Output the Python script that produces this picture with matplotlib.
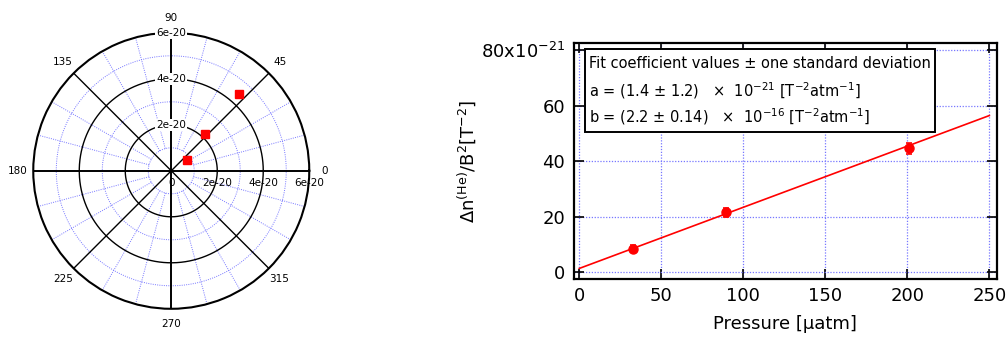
import numpy as np
import matplotlib
matplotlib.use("Agg")
from matplotlib import pyplot as plt
from matplotlib.patches import Rectangle

plt.rcParams['font.family'] = 'DejaVu Sans'
plt.rcParams['mathtext.fontset'] = 'dejavusans'

# measured points (Delta n / B^2 in units of 1e-21 T^-2)
pressure = [32.5, 89.5, 200.8]          # uatm
dn = [8.5, 21.6, 44.6]
dn_err = [1.3, 1.6, 2.0]
phase_deg = [34.0, 47.0, 48.5]          # phase of the signal for the polar view

# linear fit y = a + b*P  (a in 1e-21, b in 1e-16 per atm -> 1e-22 per uatm)
fit_a = 1.4
fit_b = 2.2
fit_p = [0, 250]

polar_rings = [2e-20, 4e-20, 6e-20]
polar_minor = [1e-20, 3e-20, 5e-20]
ring_labels = ['2e-20', '4e-20', '6e-20']
angle_ticks = [0, 45, 90, 135, 180, 225, 270, 315]

xticks = [0, 50, 100, 150, 200, 250]
yticks = [0, 20, 40, 60, 80]
ytick_labels = ['0', '20', '40', '60', r'80x10$^{-21}$']

blue = '#7777ff'
dots = (0, (1, 1.3))

fig = plt.figure(figsize=(10.08, 3.43), dpi=100)

# ---------------- polar plot ----------------
pax = fig.add_axes([0.0330, 0.0997, 0.2738, 0.8047], projection='polar')
rmax = 6e-20
pax.set_ylim(0, rmax)
pax.grid(False)
pax.set_xticks([])
pax.set_yticks([])
pax.spines['polar'].set_linewidth(1.5)
pax.spines['polar'].set_color('black')

th = np.linspace(0, 2*np.pi, 400)
for r in polar_minor:
    pax.plot(th, np.full_like(th, r), color=blue, lw=0.7, ls=dots, zorder=1)
for deg in range(0, 360, 15):
    if deg % 45:
        t = np.deg2rad(deg)
        pax.plot([t, t], [1e-20, rmax], color=blue, lw=0.7, ls=dots, zorder=1)
for r in polar_rings[:-1]:
    pax.plot(th, np.full_like(th, r), color='black', lw=1.0, zorder=2)
for deg in angle_ticks:
    t = np.deg2rad(deg)
    lw = 1.4 if deg % 90 == 0 else 1.0
    pax.plot([t, t], [0, rmax], color='black', lw=lw, zorder=2)

# angle labels
for deg in angle_ticks:
    pax.text(np.deg2rad(deg), rmax * 1.11, str(deg), ha='center', va='center',
             fontsize=7.5, clip_on=False)

# radius labels on the 90 degree axis
for r, lab in zip(polar_rings, ring_labels):
    pax.text(np.pi/2, r, lab, ha='center', va='center', fontsize=7.5, zorder=4,
             bbox=dict(facecolor='white', edgecolor='none', pad=0.6))
# radius labels under the 0 degree axis
for r, lab in zip([0] + polar_rings, ['0'] + ring_labels):
    pax.annotate(lab, xy=(0, r), xytext=(0, -9), textcoords='offset points',
                 ha='center', va='center', fontsize=7.5, annotation_clip=False)

pr = np.array(dn) * 1e-21
pax.plot(np.deg2rad(phase_deg), pr, 's', color='red', ms=5.5, mec='red', zorder=5,
         clip_on=False)

# ---------------- linear plot ----------------
ax = fig.add_axes([0.5690, 0.1866, 0.4198, 0.6872])
ax.set_xlim(-3.5, 254.5)
ax.set_ylim(-2.4, 82.4)

px = np.array(fit_p, dtype=float)
ax.plot(px, fit_a + fit_b * 0.1 * px, color='red', lw=1.2, zorder=3)
ax.errorbar(pressure, dn, yerr=dn_err, fmt='o', color='red', ms=6.5,
            capsize=2.5, elinewidth=1.2, capthick=1.2, zorder=4)

ax.set_xticks(xticks)
ax.set_yticks(yticks)
ax.set_yticklabels(ytick_labels)
ax.tick_params(direction='in', length=7, width=1.2, top=True, right=True,
               labelsize=13, pad=6)
ax.grid(True, color=blue, ls=dots, lw=0.9)
ax.set_axisbelow(True)
for s in ax.spines.values():
    s.set_linewidth(1.6)

ax.set_xlabel('Pressure [μatm]', fontsize=13, labelpad=7)
ax.set_ylabel(r'$\Delta$n$^{(\mathrm{He})}$/B$^{2}$[T$^{-2}$]', fontsize=13, labelpad=2)

box = Rectangle((0.027, 0.625), 0.827, 0.35, transform=ax.transAxes,
                facecolor='white', edgecolor='black', lw=1.4, zorder=5)
ax.add_patch(box)
lines = [
    'Fit coefficient values ± one standard deviation',
    r'a = (1.4 ± 1.2)   $\times$  10$^{-21}$ [T$^{-2}$atm$^{-1}$]',
    r'b = (2.2 ± 0.14)   $\times$  10$^{-16}$ [T$^{-2}$atm$^{-1}$]',
]
for yy, s in zip([0.9147, 0.801, 0.6886], lines):
    ax.text(0.036, yy, s, transform=ax.transAxes, fontsize=10.5, va='center',
            ha='left', zorder=6)

fig.savefig('out.png', dpi=100)
